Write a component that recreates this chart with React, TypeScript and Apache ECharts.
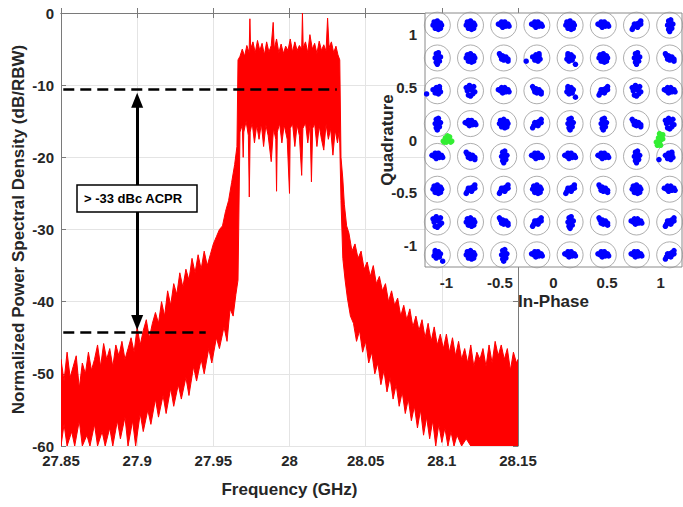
import React, { useEffect, useRef } from "react";
import * as echarts from "echarts";

// ---------- Spectrum ----------
// Upper edge (spike tips / top of the red trace)
const upperFreqGHz = [
  27.85, 27.852, 27.854, 27.856, 27.858, 27.86, 27.862, 27.864, 27.866, 27.868,
  27.87, 27.872, 27.874, 27.876, 27.878, 27.88, 27.882, 27.884, 27.886, 27.888,
  27.89, 27.892, 27.894, 27.896, 27.898, 27.9, 27.902, 27.904, 27.906, 27.908,
  27.91, 27.912, 27.914, 27.916, 27.918, 27.92, 27.922, 27.924, 27.926, 27.928,
  27.93, 27.932, 27.934, 27.936, 27.938, 27.94, 27.942, 27.944, 27.946, 27.948,
  27.95, 27.952, 27.954, 27.956, 27.958, 27.96, 27.962, 27.964, 27.9655, 27.9662,
  27.9675, 27.969, 27.9705, 27.972, 27.9735, 27.974, 27.9745, 27.976, 27.9775, 27.979,
  27.9805, 27.982, 27.9835, 27.985, 27.9865, 27.988, 27.9893, 27.99, 27.9915, 27.993,
  27.9945, 27.996, 27.9975, 27.999, 28.0005, 28.002, 28.0035, 28.005, 28.0065, 28.008,
  28.0085, 28.009, 28.0105, 28.012, 28.0134, 28.015, 28.0165, 28.018, 28.0195, 28.021,
  28.0225, 28.024, 28.025, 28.026, 28.0275, 28.029, 28.0305, 28.0318, 28.033, 28.0338,
  28.035, 28.036, 28.0375, 28.039, 28.041, 28.043, 28.045, 28.047, 28.049, 28.051,
  28.053, 28.055, 28.057, 28.059, 28.061, 28.063, 28.065, 28.067, 28.069, 28.071,
  28.073, 28.075, 28.077, 28.079, 28.081, 28.083, 28.085, 28.087, 28.089, 28.091,
  28.093, 28.095, 28.097, 28.099, 28.101, 28.103, 28.105, 28.107, 28.109, 28.111,
  28.113, 28.115, 28.117, 28.119, 28.121, 28.123, 28.125, 28.127, 28.129, 28.131,
  28.133, 28.135, 28.137, 28.139, 28.141, 28.143, 28.145, 28.147, 28.149, 28.15,
];
const upperPsdDb = [
  -48, -51, -47, -50.5, -49, -47.5, -52, -48.5, -50, -47,
  -49.5, -48, -46, -49, -45.8, -48, -46.5, -49, -46, -47.5,
  -45.5, -48, -46.5, -45, -47, -43.5, -46, -44, -42.5, -45,
  -43, -41.5, -43, -40, -42, -38.5, -40.5, -37.5, -39, -36,
  -38, -35.5, -37, -34, -36, -33.5, -35.5, -33, -35, -33.5,
  -32, -31, -30, -29.5, -27.5, -26, -23.5, -21, -18.5, -6.5,
  -6, -5, -6, -4.5, -5.5, -0.8, -5, -4, -5.5, -3.8,
  -5.2, -4.2, -5.8, -4, -5.4, -4.5, -1.3, -5, -3.6, -5.5,
  -4.3, -5.6, -4.6, -5.2, -3.6, -5.4, -4, -5.2, -4.5, -5,
  0, -4.8, -4, -5.5, -3, -5, -4.2, -5.6, -3.9, -5.2,
  -4.4, -5.3, -0.7, -4.8, -4, -5.5, -4.6, -5.8, -6.5, -20,
  -23, -26.5, -29.5, -30.5, -33, -32, -34, -33, -35.5, -34.5,
  -36.5, -35, -37.5, -36.5, -38.5, -37.5, -40, -38.5, -40.5, -39.5,
  -42, -40.5, -42.5, -41, -43.5, -42, -44, -42.5, -45, -43,
  -45.5, -43.5, -46, -44.5, -46.5, -44.5, -47, -45, -47.5, -45.5,
  -48, -46.5, -48.5, -46, -49, -47, -48, -46.5, -49, -46,
  -48.5, -45.5, -47.5, -46, -48, -46.5, -49.5, -47, -48.5, -48,
];
// Lower edge (bottom of the red trace, with its downward spikes)
const lowerFreqGHz = [
  27.85, 27.852, 27.854, 27.857, 27.859, 27.862, 27.864, 27.867, 27.869, 27.872,
  27.874, 27.877, 27.879, 27.882, 27.884, 27.887, 27.889, 27.892, 27.894, 27.897,
  27.899, 27.902, 27.904, 27.907, 27.909, 27.912, 27.914, 27.917, 27.919, 27.922,
  27.924, 27.927, 27.929, 27.932, 27.934, 27.937, 27.939, 27.942, 27.944, 27.947,
  27.949, 27.952, 27.954, 27.957, 27.959, 27.961, 27.963, 27.9648, 27.9662, 27.9675,
  27.969, 27.9696, 27.97, 27.9715, 27.973, 27.9736, 27.9742, 27.9755, 27.977, 27.9785,
  27.98, 27.9815, 27.983, 27.9845, 27.986, 27.988, 27.9895, 27.991, 27.9915, 27.992,
  27.9935, 27.995, 27.9965, 27.9985, 28.0, 28.0005, 28.002, 28.0035, 28.005, 28.0065,
  28.008, 28.0088, 28.0105, 28.012, 28.0135, 28.0144, 28.0152, 28.0165, 28.018, 28.0195,
  28.021, 28.0225, 28.024, 28.0255, 28.027, 28.0285, 28.03, 28.0315, 28.0325, 28.033,
  28.0338, 28.035, 28.0365, 28.038, 28.04, 28.042, 28.044, 28.046, 28.048, 28.05,
  28.052, 28.054, 28.056, 28.058, 28.06, 28.062, 28.064, 28.066, 28.068, 28.07,
  28.072, 28.074, 28.076, 28.078, 28.08, 28.082, 28.084, 28.086, 28.088, 28.09,
  28.092, 28.094, 28.096, 28.098, 28.1, 28.102, 28.104, 28.106, 28.108, 28.11,
  28.113, 28.116, 28.119, 28.15,
];
const lowerPsdDb = [
  -60, -57, -60, -58, -60, -56.5, -60, -58.5, -60, -57,
  -60, -58, -60, -57.5, -60, -56.5, -59, -56, -60, -56.5,
  -60, -55.5, -58, -55, -57, -53.5, -56, -53, -55.5, -52,
  -54.5, -51.5, -53.5, -50.5, -53, -49, -51, -48, -50, -46.5,
  -48.5, -45, -46.5, -43.5, -45.5, -41, -42, -39, -37, -16.5,
  -15.5, -20, -16.5, -15, -17, -25.5, -16.5, -15.2, -18, -15.5,
  -17.5, -15.3, -18.5, -15.5, -17, -20.6, -16, -17.5, -24.7, -16.5,
  -15.3, -18, -15.5, -17.5, -25, -16, -15.3, -18.5, -15.5, -17,
  -22.5, -16, -15.2, -18, -15.5, -23.4, -16, -15.3, -18.5, -15.6,
  -17.5, -19, -15.4, -17.5, -16, -19.7, -16.2, -18, -16.5, -18,
  -26, -34, -37, -39.5, -42, -43, -45.5, -44, -47, -45.5,
  -48.5, -47, -50, -48.5, -51.5, -49.5, -52.5, -50.5, -53.5, -51.5,
  -54.5, -52.5, -55.5, -53.5, -56.5, -54.5, -57.5, -55, -58.5, -56,
  -59, -56.5, -60, -57, -59.5, -57.5, -60, -58, -60, -58.5,
  -60, -59, -60, -60,
];

// Annotations (data values)
const carrierLevel = -10.5;
const carrierLineStart = 27.8515;
const carrierLineEnd = 28.031;
const acprLevel = -44.3;
const acprLineEnd = 27.945;
const arrowFreq = 27.9;
const arrowTop = -12.1;
const arrowBottom = -42.9;
const acprText = "> -33 dBc ACPR";

// ---------- Constellation (64-QAM inset) ----------
const qamLevels = [-1.085, -0.775, -0.465, -0.155, 0.155, 0.465, 0.775, 1.085];
const clusterShapes: number[][][] = [
  [[-0.03, 0.03], [0, 0.04], [0.03, 0.02], [-0.04, 0], [-0.01, 0.01], [0.02, -0.01], [0.04, 0], [-0.02, -0.03], [0.01, -0.04], [0.03, -0.03], [-0.01, -0.01]],
  [[-0.05, 0.01], [-0.03, 0], [-0.02, 0.03], [0, 0.01], [0.02, -0.01], [0.04, 0.01], [0.05, -0.01], [-0.01, -0.02], [0.01, 0.03], [0.02, 0.01]],
  [[0.01, 0.05], [-0.01, 0.04], [0.01, 0.02], [-0.02, 0], [0, -0.01], [0.02, -0.03], [-0.01, -0.04], [0, -0.06], [0.03, 0.01], [0.01, 0]],
  [[-0.04, -0.04], [-0.03, -0.02], [-0.01, -0.01], [0, 0.01], [0.02, 0.02], [0.04, 0.04], [0.01, -0.02], [-0.02, 0.01], [0.04, 0.01], [0.02, 0]],
  [[-0.04, 0.04], [-0.03, 0.02], [-0.01, 0.02], [0, 0], [0.02, -0.01], [0.04, -0.03], [0.02, 0.01], [-0.02, -0.01], [0.04, -0.01], [0, -0.02]],
  [[-0.02, 0.02], [0.01, 0.03], [0.03, 0.01], [-0.03, -0.01], [0, 0], [0.02, -0.02], [-0.01, -0.03], [0.05, -0.06], [-0.02, 0.04]],
  [[-0.01, 0.03], [0.02, 0.02], [0.03, -0.01], [0, 0], [-0.02, -0.02], [0.01, -0.03], [-0.04, 0.01], [-0.1, -0.03], [0.02, 0.04]],
  [[-0.04, 0.03], [-0.01, 0.05], [0.03, 0.04], [-0.03, 0], [0.01, 0.01], [0.04, -0.01], [-0.02, -0.04], [0.02, -0.03], [0, -0.05], [-0.01, 0.02]],
];
// rows from top (Q = +1.085) to bottom, columns from left (I = -1.085) to right
const clusterShapeGrid = [
  [0, 0, 1, 1, 0, 1, 3, 2],
  [2, 0, 4, 6, 5, 0, 2, 4],
  [6, 7, 1, 4, 5, 3, 7, 1],
  [2, 1, 0, 3, 2, 2, 4, 7],
  [1, 4, 2, 1, 1, 1, 2, 6],
  [0, 3, 3, 0, 3, 4, 0, 1],
  [7, 0, 4, 3, 2, 4, 1, 3],
  [5, 0, 2, 1, 1, 1, 1, 3],
];
const pilotLeft = [[-1.03, -0.01], [-1.01, 0.02], [-0.99, 0.04], [-1.0, 0.0], [-0.98, 0.01], [-0.96, -0.02], [-1.02, -0.02], [-0.97, 0.03], [-0.95, -0.01], [-1.0, -0.02]];
const pilotRight = [[0.97, -0.05], [0.99, -0.03], [1.0, 0.0], [0.98, 0.02], [1.01, 0.04], [0.99, 0.06], [1.02, 0.01], [0.96, -0.02], [1.0, -0.05], [1.02, 0.05]];
const insetTicks = [-1, -0.5, 0, 0.5, 1];

const FONT = "'Liberation Sans', Arial, sans-serif";
const TXT = "#262626";

export default function App() {
  const ref = useRef<HTMLDivElement>(null);
  useEffect(() => {
    if (!ref.current) return;
    const chart = echarts.init(ref.current, undefined, { renderer: "svg" });

    const refCircles: number[][] = [];
    const symbols: number[][] = [];
    qamLevels.forEach((_q, r) => {
      const qv = qamLevels[qamLevels.length - 1 - r];
      qamLevels.forEach((iv, c) => {
        refCircles.push([iv, qv]);
        const shape = clusterShapes[clusterShapeGrid[r][c]];
        shape.forEach(([dx, dy]) => symbols.push([iv + dx, qv + dy]));
      });
    });

    const tickLabel = {
      color: TXT,
      fontWeight: "bold" as const,
      fontSize: 15,
      fontFamily: FONT,
    };
    const nameStyle = {
      color: TXT,
      fontWeight: "bold" as const,
      fontSize: 17,
      fontFamily: FONT,
    };
    const axisLineGray = { show: true, lineStyle: { color: "#7a7a7a", width: 1 } };
    const tickIn = { show: true, inside: true, length: 5, lineStyle: { color: "#7a7a7a" } };

    const option: any = {
      animation: false,
      backgroundColor: "#ffffff",
      grid: [
        { left: 61, top: 13, width: 457, height: 433, z: 0 },
        {
          left: 425, top: 13, width: 257, height: 254, z: 10,
          show: true, backgroundColor: "#ffffff", borderColor: "#8a8a8a", borderWidth: 1,
        },
      ],
      xAxis: [
        {
          type: "value", gridIndex: 0, min: 27.85, max: 28.15, interval: 0.05,
          name: "Frequency (GHz)", nameLocation: "middle", nameGap: 35, nameMoveOverlap: false,
          nameTextStyle: nameStyle,
          axisLine: axisLineGray,
          axisTick: tickIn,
          axisLabel: { ...tickLabel, margin: 7, formatter: (v: number) => String(Number(v.toFixed(2))) },
          splitLine: { show: true, lineStyle: { color: "#e4e4e4", width: 1 } },
        },
        {
          type: "value", gridIndex: 0, position: "top", min: 27.85, max: 28.15, interval: 0.05,
          axisLine: axisLineGray, axisTick: tickIn,
          axisLabel: { show: false }, splitLine: { show: false },
        },
        {
          type: "value", gridIndex: 1, min: -1.2, max: 1.2,
          name: "In-Phase", nameLocation: "middle", nameGap: 26, nameMoveOverlap: false,
          nameTextStyle: nameStyle,
          axisLine: { show: false },
          axisTick: { show: true, inside: true, length: 4, customValues: insetTicks, lineStyle: { color: "#8a8a8a" } },
          axisLabel: { ...tickLabel, margin: 8, customValues: insetTicks, formatter: (v: number) => String(v) },
          splitLine: { show: false },
        },
      ],
      yAxis: [
        {
          type: "value", gridIndex: 0, min: -60, max: 0, interval: 10,
          name: "Normalized Power Spectral Density (dB/RBW)", nameLocation: "middle", nameGap: 34,
          nameMoveOverlap: false,
          nameTextStyle: nameStyle,
          axisLine: axisLineGray, axisTick: tickIn,
          axisLabel: { ...tickLabel, margin: 7 },
          splitLine: { show: true, lineStyle: { color: "#e4e4e4", width: 1 } },
        },
        {
          type: "value", gridIndex: 0, position: "right", min: -60, max: 0, interval: 10,
          axisLine: axisLineGray, axisTick: tickIn,
          axisLabel: { show: false }, splitLine: { show: false },
        },
        {
          type: "value", gridIndex: 1, min: -1.2, max: 1.2,
          name: "Quadrature", nameLocation: "middle", nameGap: 29, nameMoveOverlap: false,
          nameTextStyle: nameStyle,
          axisLine: { show: false },
          axisTick: { show: true, inside: true, length: 4, customValues: insetTicks, lineStyle: { color: "#8a8a8a" } },
          axisLabel: { ...tickLabel, margin: 8, customValues: insetTicks, formatter: (v: number) => String(v) },
          splitLine: { show: false },
        },
      ],
      series: [
        {
          type: "custom",
          name: "PSD",
          xAxisIndex: 0, yAxisIndex: 0,
          clip: true,
          z: 2,
          data: [[upperFreqGHz[0], upperPsdDb[0]]],
          renderItem: (_params: any, api: any) => {
            const pts: number[][] = [];
            for (let i = 0; i < upperFreqGHz.length; i++) pts.push(api.coord([upperFreqGHz[i], upperPsdDb[i]]));
            for (let i = lowerFreqGHz.length - 1; i >= 0; i--) pts.push(api.coord([lowerFreqGHz[i], lowerPsdDb[i]]));
            return {
              type: "polygon",
              shape: { points: pts },
              style: { fill: "#ff0000", stroke: "#ff0000", lineWidth: 1, lineJoin: "miter" },
            };
          },
        },
        {
          type: "line",
          xAxisIndex: 0, yAxisIndex: 0,
          data: [],
          z: 4,
          markLine: {
            silent: true,
            animation: false,
            label: { show: false },
            emphasis: { disabled: true },
            data: [
              [
                { coord: [carrierLineStart, carrierLevel], symbol: "none", lineStyle: { color: "#000", width: 2.5, type: [11, 6] } },
                { coord: [carrierLineEnd, carrierLevel], symbol: "none" },
              ],
              [
                { coord: [carrierLineStart, acprLevel], symbol: "none", lineStyle: { color: "#000", width: 2.5, type: [11, 6] } },
                { coord: [acprLineEnd, acprLevel], symbol: "none" },
              ],
              [
                { coord: [arrowFreq, arrowTop], symbol: "triangle", symbolSize: [12, 15], lineStyle: { color: "#000", width: 3, type: "solid" } },
                { coord: [arrowFreq, arrowBottom], symbol: "triangle", symbolSize: [12, 15] },
              ],
            ],
            itemStyle: { color: "#000" },
          },
        },
        {
          type: "scatter",
          xAxisIndex: 2, yAxisIndex: 2,
          data: refCircles,
          symbol: "circle",
          symbolSize: 26,
          z: 11,
          silent: true,
          itemStyle: { color: "rgba(0,0,0,0)", borderColor: "#9a9a9a", borderWidth: 1 },
        },
        {
          type: "scatter",
          xAxisIndex: 2, yAxisIndex: 2,
          data: symbols,
          symbolSize: 5.5,
          z: 12,
          silent: true,
          itemStyle: { color: "#0000ff", opacity: 1 },
        },
        {
          type: "scatter",
          xAxisIndex: 2, yAxisIndex: 2,
          data: [...pilotLeft, ...pilotRight],
          symbolSize: 5.5,
          z: 12,
          silent: true,
          itemStyle: { color: "#33ee33", opacity: 1 },
        },
      ],
      graphic: [
        {
          type: "rect",
          z: 100,
          shape: { x: 77, y: 185, width: 120, height: 27 },
          style: { fill: "#ffffff", stroke: "#000000", lineWidth: 1.5 },
        },
        {
          type: "text",
          z: 101,
          x: 84, y: 198.5,
          style: {
            text: acprText, fill: "#000", font: `bold 13px ${FONT}`,
            verticalAlign: "middle", align: "left",
          },
        },
      ],
    };
    chart.setOption(option);
    return () => chart.dispose();
  }, []);
  return <div ref={ref} style={{ width: 683, height: 507, position: "absolute", left: 0, top: 0 }} />;
}
